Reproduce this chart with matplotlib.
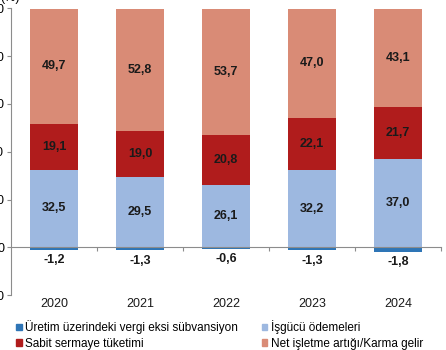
import numpy as np
import matplotlib
matplotlib.use("Agg")
import matplotlib.pyplot as plt
from matplotlib.patches import Rectangle

plt.rcParams['font.family'] = ['Liberation Sans', 'DejaVu Sans']

# data (%)
years = ["2020", "2021", "2022", "2023", "2024"]
vergi = [-1.2, -1.3, -0.6, -1.3, -1.8]
isgucu = [32.5, 29.5, 26.1, 32.2, 37.0]
sabit = [19.1, 19.0, 20.8, 22.1, 21.7]
net = [49.7, 52.8, 53.7, 47.0, 43.1]

series_names = ["Üretim üzerindeki vergi eksi sübvansiyon", "İşgücü ödemeleri",
                "Sabit sermaye tüketimi", "Net işletme artığı/Karma gelir"]
colors = ["#2E75B6", "#9DB8E0", "#B01C1C", "#D98B76"]
yticks = [-20, 0, 20, 40, 60, 80, 100]


def fmt(v):
    return f"{v:.1f}".replace(".", ",")


fig = plt.figure(figsize=(4.46, 3.5), dpi=100)
ax = fig.add_axes([11 / 446, 55 / 350, 430 / 446, 286.5 / 350])

x = np.arange(len(years))
w = 0.56

# negative part
c0 = ax.bar(x, vergi, w, color=colors[0], zorder=2)
ax.bar_label(c0, labels=[fmt(v) for v in vergi], padding=3,
             fontsize=9, fontweight="bold", color="#1a1a1a")

bottom = np.zeros(len(years))
for vals, col in zip([isgucu, sabit, net], colors[1:]):
    c = ax.bar(x, vals, w, bottom=bottom, color=col, zorder=2)
    ax.bar_label(c, labels=[fmt(v) for v in vals], label_type="center",
                 fontsize=9, fontweight="bold", color="#1a1a1a")
    bottom += np.array(vals)

ax.set_xlim(-0.5, len(years) - 0.5)
ax.set_ylim(-20, 100)

# axes styling
for s in ["top", "right"]:
    ax.spines[s].set_visible(False)
ax.spines["left"].set_color("#8c8c8c")
ax.spines["bottom"].set_position(("data", 0))
ax.spines["bottom"].set_color("#8c8c8c")
ax.set_yticks(yticks)
ax.set_yticklabels([str(t) for t in yticks])
ax.tick_params(axis="y", length=3, color="#8c8c8c", labelsize=9, pad=2)

ax.set_xticks(x + 0.5)
ax.set_xticklabels([])
ax.tick_params(axis="x", length=3, color="#8c8c8c")
for xi, yr in zip(x, years):
    ax.text(xi, -0.03, yr, transform=ax.get_xaxis_transform(),
            ha="center", va="center", fontsize=9, color="#1a1a1a")

fig.text(0.0, 1.005, "(%)", ha="left", va="center", fontsize=9)

# legend (row-wise order)
handles = [Rectangle((0, 0), 1, 1, color=c) for c in colors]
order = [0, 2, 1, 3]
fig.legend([handles[i] for i in order], [series_names[i] for i in order],
           ncol=2, loc="upper left", bbox_to_anchor=(0.035, 0.085),
           frameon=False, fontsize=8.5, handlelength=0.5, handleheight=0.5,
           handletextpad=0.3, columnspacing=2.0, labelspacing=0.3,
           borderpad=0, borderaxespad=0)

fig.savefig("out.png", dpi=100)
